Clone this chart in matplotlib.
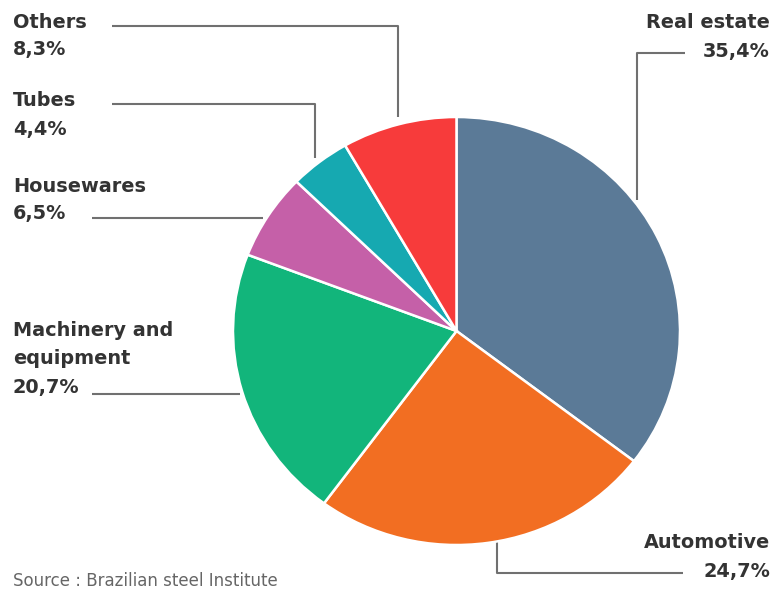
import matplotlib
matplotlib.use("Agg")
import matplotlib.pyplot as plt

categories = ["Real estate", "Automotive", "Machinery and\nequipment", "Housewares", "Tubes", "Others"]
shares = [35.4, 24.7, 20.7, 6.5, 4.4, 8.3]
colors = ["#5b7a97", "#f26e22", "#12b57b", "#c560a8", "#16a9b1", "#f73b3b"]
source = "Source : Brazilian steel Institute"

W, H = 776, 590
fig = plt.figure(figsize=(W / 100, H / 100), dpi=100)
fig.patch.set_facecolor("white")

# overlay axes in pixel coords
ov = fig.add_axes([0, 0, 1, 1])
ov.set_xlim(0, W)
ov.set_ylim(H, 0)
ov.axis("off")

# pie axes placed at pixel extents
px0, px1, py0, py1 = 233, 680, 117, 545
ax = fig.add_axes([px0 / W, 1 - py1 / H, (px1 - px0) / W, (py1 - py0) / H])
ax.pie(shares, colors=colors, startangle=90, counterclock=False,
       wedgeprops=dict(edgecolor="white", linewidth=1.8))
ax.set_aspect("auto")
ax.set_xlim(-1, 1)
ax.set_ylim(-1, 1)
ax.axis("off")

def fmt(v):
    return f"{v:.1f}".replace(".", ",") + "%"

tc = "#333333"
lc = "#707070"
fs = 13.9
fam = "DejaVu Sans"

# label layouts: (x, y_top_line, ha, line path)
layouts = {
    "Real estate": (770, 23, "right", [(685, 53), (637, 53), (637, 200)]),
    "Automotive": (770, 543, "right", [(683, 573), (497, 573), (497, 542)]),
    "Machinery and\nequipment": (13, 331, "left", [(92, 394), (240, 394)]),
    "Housewares": (13, 186, "left", [(92, 218), (263, 218)]),
    "Tubes": (13, 101, "left", [(112, 104), (315, 104), (315, 158)]),
    "Others": (13, 22, "left", [(112, 26), (398, 26), (398, 117)]),
}

for cat, val in zip(categories, shares):
    x, y, ha, path = layouts[cat]
    lines = cat.split("\n") + [fmt(val)]
    for i, t in enumerate(lines):
        ov.text(x, y + i * 28, t, ha=ha, va="center", fontsize=fs,
                color=tc, family=fam, fontweight="bold")
    xs, ys = zip(*path)
    ov.plot(xs, ys, color=lc, lw=1.5, solid_capstyle="butt")

ov.text(13, 581, source, ha="left", va="center", fontsize=12, color="#666666", family=fam)

fig.savefig("out.png", dpi=100, facecolor="white")
